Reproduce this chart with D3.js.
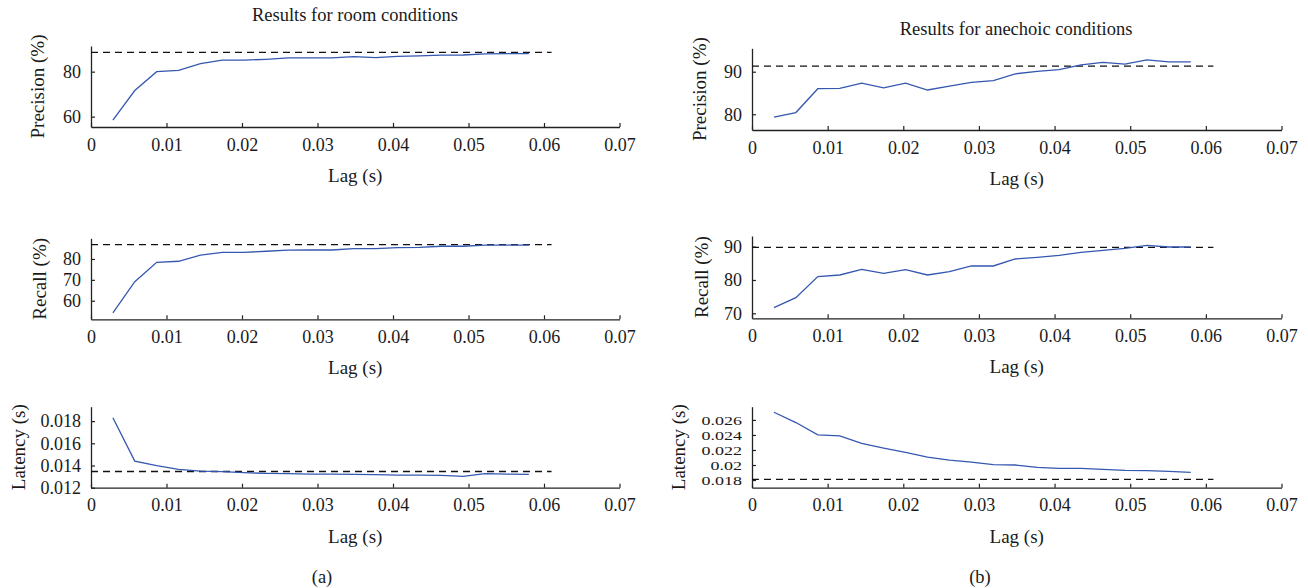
<!DOCTYPE html>
<html><head><meta charset="utf-8">
<script src="https://cdn.jsdelivr.net/npm/d3@7"></script>
<style>
body{margin:0;background:#fff}
text{font-family:"Liberation Serif","Times New Roman",serif;fill:#1a1a1a}
</style>
</head><body>
<svg id="c" width="1308" height="588"></svg>
<script>
// ---- data ----
const lags = [0.0029,0.0058,0.0087,0.0116,0.0145,0.0174,0.0203,0.0232,0.0261,0.029,
              0.0319,0.0348,0.0377,0.0406,0.0435,0.0464,0.0493,0.0522,0.0551,0.058];
const roomPrecision = [58.5,71.6,80.0,80.6,83.6,85.1,85.1,85.5,86.1,86.1,86.1,86.7,86.2,86.8,87.0,87.3,87.4,87.9,88.0,88.0];
const roomRecall    = [54.2,69.1,78.4,78.9,81.8,83.2,83.2,83.7,84.2,84.3,84.3,85.0,85.0,85.4,85.6,86.1,86.1,86.6,86.6,86.6];
const roomLatency   = [0.0183,0.0144,0.01398,0.01365,0.0135,0.01344,0.01335,0.01329,0.01326,0.01323,
                       0.01323,0.0132,0.01317,0.01314,0.01314,0.01311,0.01302,0.01326,0.01323,0.0132];
const anePrecision  = [79.3,80.4,86.0,86.1,87.3,86.2,87.3,85.7,86.6,87.5,87.9,89.5,90.1,90.5,91.6,92.2,91.8,92.8,92.3,92.3];
const aneRecall     = [71.7,74.7,81.0,81.5,83.2,82.0,83.1,81.5,82.5,84.2,84.2,86.3,86.8,87.4,88.3,88.9,89.5,90.4,89.9,89.9];
const aneLatency    = [0.02702,0.02565,0.02401,0.02388,0.02287,0.02225,0.02167,0.02106,0.02066,0.02039,
                       0.02004,0.02,0.01969,0.01955,0.01955,0.01942,0.01929,0.01925,0.01916,0.01902];
// dashed reference levels
const roomRefs = [88.6, 86.9, 0.01346];
const aneRefs  = [91.3, 89.8, 0.0181];
const refLagEnd = 0.061;
// ticks
const xTicks = [0,0.01,0.02,0.03,0.04,0.05,0.06,0.07];
const xTickLabels = ["0","0.01","0.02","0.03","0.04","0.05","0.06","0.07"];
const roomPrecTicks = [60,80];
const roomRecTicks = [60,70,80];
const roomLatTicks = [0.012,0.014,0.016,0.018];
const roomLatTickLabels = ["0.012","0.014","0.016","0.018"];
const anePrecTicks = [80,90];
const aneRecTicks = [70,80,90];
const aneLatTicks = [0.018,0.02,0.022,0.024,0.026];
const aneLatTickLabels = ["0.018","0.02","0.022","0.024","0.026"];
const titles = ["Results for room conditions","Results for anechoic conditions"];
const captions = ["(a)","(b)"];
const yLabels = ["Precision (%)","Recall (%)","Latency (s)"];

// ---- layout ----
const svg = d3.select("#c");
const cols = [{x0:91, x1:619.5, titleY:21, titleX:355, capX:322},
              {x0:752, x1:1281.5, titleY:35, titleX:1016, capX:980}];
const panels = [
  {col:0, top:46,    bottom:127,   dom:[55.4,91.4],     ticks:roomPrecTicks, labels:null, data:roomPrecision, ref:roomRefs[0], yl:0, ylx:37.5, fs:18},
  {col:0, top:238.3, bottom:319.3, dom:[51.1,89.9],     ticks:roomRecTicks,  labels:null, data:roomRecall,    ref:roomRefs[1], yl:1, ylx:39.5, fs:18},
  {col:0, top:406.7, bottom:487.7, dom:[0.012,0.0193],  ticks:roomLatTicks,  labels:roomLatTickLabels, data:roomLatency, ref:roomRefs[2], yl:2, ylx:18, fs:18},
  {col:1, top:48.3,  bottom:130,   dom:[76.3,95.5],     ticks:anePrecTicks,  labels:null, data:anePrecision,  ref:aneRefs[0], yl:0, ylx:699, fs:18},
  {col:1, top:236,   bottom:318.3, dom:[68.5,93.2],     ticks:aneRecTicks,   labels:null, data:aneRecall,     ref:aneRefs[1], yl:1, ylx:701, fs:18},
  {col:1, top:406.7, bottom:487.7, dom:[0.01698,0.02776],ticks:aneLatTicks,  labels:aneLatTickLabels, data:aneLatency, ref:aneRefs[2], yl:2, ylx:678, fs:13.5}
];
const FS = 18;

panels.forEach(p => {
  const c = cols[p.col];
  const x = d3.scaleLinear().domain([0,0.07]).range([c.x0,c.x1]);
  const y = d3.scaleLinear().domain(p.dom).range([p.bottom,p.top]);
  const g = svg.append("g");

  const xa = d3.axisBottom(x).tickValues(xTicks)
      .tickFormat((d,i)=>xTickLabels[i]).tickSizeInner(-4).tickSizeOuter(0).tickPadding(11);
  const gx = g.append("g").attr("transform",`translate(0,${p.bottom})`).call(xa);
  const ya = d3.axisLeft(y).tickValues(p.ticks)
      .tickFormat((d,i)=> p.labels ? p.labels[i] : String(d)).tickSizeInner(-4).tickSizeOuter(0).tickPadding(10);
  const gy = g.append("g").attr("transform",`translate(${c.x0},0)`).call(ya);
  [gx,gy].forEach(a=>{
    a.selectAll("text").style("font-family",'"Liberation Serif",serif').attr("fill","#1a1a1a");
    a.selectAll("line").attr("stroke","#222").attr("stroke-width",1.2);
    a.select(".domain").attr("stroke","#222").attr("stroke-width",1.3);
  });
  gx.selectAll("text").style("font-size",FS+"px");
  gy.selectAll("text").style("font-size",p.fs+"px");
  if (p.fs < FS) {
    // keep the reference's wide label look while staying inside the tight 15 px tick spacing
    gy.selectAll("text").each(function(){
      const t = d3.select(this);
      const w = this.getComputedTextLength() * (FS / p.fs);
      t.attr("textLength", w).attr("lengthAdjust","spacingAndGlyphs");
    });
  }

  // dashed reference line
  g.append("line")
    .attr("x1",x(0)).attr("x2",x(refLagEnd))
    .attr("y1",y(p.ref)).attr("y2",y(p.ref))
    .attr("stroke","#111").attr("stroke-width",1.3).attr("stroke-dasharray","7,5");

  // data line
  const line = d3.line().x((d,i)=>x(lags[i])).y(d=>y(d));
  g.append("path").datum(p.data).attr("d",line)
    .attr("fill","none").attr("stroke","#3457b0").attr("stroke-width",1.3);

  // labels
  g.append("text").attr("transform",`translate(${p.ylx},${(p.top+p.bottom)/2}) rotate(-90)`)
    .attr("text-anchor","middle").attr("dy","0.35em").style("font-size","19px").text(yLabels[p.yl]);
  g.append("text").attr("x",(c.x0+c.x1)/2).attr("y",p.bottom+55)
    .attr("text-anchor","middle").style("font-size","19px").text("Lag (s)");
});

cols.forEach((c,i)=>{
  svg.append("text").attr("x",c.titleX).attr("y",c.titleY).attr("text-anchor","middle")
    .style("font-size","18.5px").text(titles[i]);
  svg.append("text").attr("x",c.capX).attr("y",583).attr("text-anchor","middle")
    .style("font-size","18.5px").text(captions[i]);
});
</script>
</body></html>
